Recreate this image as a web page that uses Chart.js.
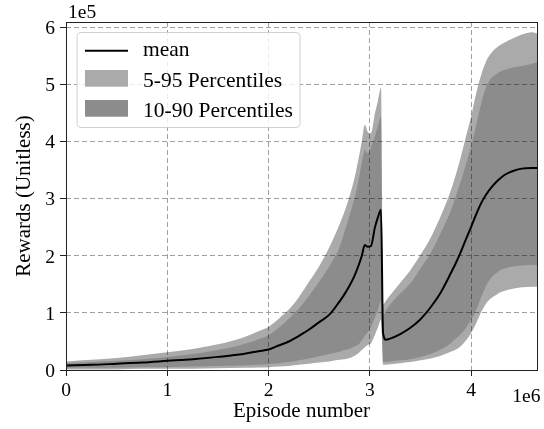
<!DOCTYPE html>
<html>
<head>
<meta charset="utf-8">
<script src="https://cdn.jsdelivr.net/npm/chart.js@4"></script>
<style>
  html, body { margin: 0; padding: 0; background: #fff; }
  canvas { display: block; }
</style>
</head>
<body>
<canvas id="rewardChart" width="544" height="429"></canvas>
<script>
// episodes in units of 1e6, rewards in units of 1e5 (see the offset labels)
const episodes = [0, 0.25, 0.5, 0.75, 1.0, 1.25, 1.5, 1.75, 1.9, 2.0, 2.1, 2.2, 2.3, 2.4, 2.5, 2.6, 2.7, 2.75, 2.8, 2.85, 2.89, 2.92, 2.95, 2.98, 3.01, 3.05, 3.08, 3.11,
  3.13, 3.16, 3.2, 3.3, 3.4, 3.5, 3.6, 3.7, 3.8, 3.85, 3.9, 3.95, 4.0, 4.05, 4.1, 4.15, 4.2, 4.25, 4.3, 4.35, 4.4, 4.5, 4.6, 4.65];
const meanReward = [0.08, 0.09, 0.11, 0.13, 0.16, 0.19, 0.23, 0.28, 0.33, 0.36, 0.43, 0.50, 0.60, 0.71, 0.84, 0.97, 1.20, 1.33, 1.48, 1.66, 1.84, 2.00, 2.19, 2.16, 2.17, 2.50, 2.68, 2.81,
  0.65, 0.53, 0.55, 0.63, 0.74, 0.89, 1.10, 1.36, 1.70, 1.88, 2.08, 2.30, 2.51, 2.73, 2.93, 3.08, 3.20, 3.30, 3.38, 3.44, 3.48, 3.53, 3.54, 3.54];
const pct95 = [0.15, 0.18, 0.21, 0.26, 0.31, 0.37, 0.45, 0.57, 0.68, 0.76, 0.90, 1.06, 1.28, 1.55, 1.82, 2.15, 2.55, 2.78, 3.05, 3.38, 3.72, 4.00, 4.30, 4.17, 4.15, 4.50, 4.72, 4.95,
  1.15, 1.22, 1.31, 1.53, 1.75, 2.02, 2.32, 2.70, 3.15, 3.43, 3.75, 4.10, 4.45, 4.85, 5.18, 5.42, 5.56, 5.65, 5.71, 5.76, 5.80, 5.88, 5.92, 5.90];
const pct5 = [0.01, 0.01, 0.01, 0.02, 0.02, 0.02, 0.03, 0.04, 0.045, 0.05, 0.06, 0.07, 0.09, 0.11, 0.13, 0.15, 0.18, 0.19, 0.21, 0.25, 0.30, 0.35, 0.40, 0.44, 0.47, 0.62, 0.75, 0.88,
  0.09, 0.09, 0.10, 0.12, 0.14, 0.17, 0.20, 0.25, 0.32, 0.36, 0.42, 0.52, 0.65, 0.82, 1.02, 1.17, 1.26, 1.32, 1.37, 1.40, 1.42, 1.45, 1.46, 1.46];
const pct90 = [0.12, 0.14, 0.16, 0.19, 0.23, 0.28, 0.35, 0.45, 0.54, 0.61, 0.74, 0.90, 1.08, 1.30, 1.55, 1.82, 2.15, 2.42, 2.72, 3.02, 3.35, 3.62, 3.85, 3.80, 3.90, 4.10, 4.28, 4.44,
  0.95, 1.05, 1.15, 1.34, 1.52, 1.78, 2.05, 2.40, 2.80, 3.06, 3.32, 3.62, 3.93, 4.30, 4.68, 4.98, 5.12, 5.19, 5.24, 5.27, 5.30, 5.33, 5.37, 5.39];
const pct10 = [0.04, 0.04, 0.04, 0.05, 0.05, 0.06, 0.07, 0.08, 0.09, 0.10, 0.12, 0.14, 0.17, 0.20, 0.24, 0.28, 0.32, 0.35, 0.37, 0.41, 0.45, 0.52, 0.60, 0.66, 0.75, 0.92, 1.05, 1.20,
  0.14, 0.14, 0.15, 0.17, 0.19, 0.23, 0.28, 0.36, 0.47, 0.55, 0.63, 0.74, 0.88, 1.05, 1.28, 1.48, 1.62, 1.70, 1.76, 1.79, 1.81, 1.83, 1.84, 1.84];
const xTicks = [0, 1, 2, 3, 4];
const yTicks = [0, 1, 2, 3, 4, 5, 6];
const seriesLabels = ['mean', '5-95 Percentiles', '10-90 Percentiles'];

const SERIF = "'Liberation Serif', 'Times New Roman', serif";
Chart.defaults.font.family = SERIF;
Chart.defaults.color = '#000';

function toPoints(values) {
  return episodes.map((x, i) => ({ x: x, y: values[i] }));
}

// frame, matplotlib-style legend and the 1e5 / 1e6 offset labels
const decorPlugin = {
  id: 'decor',
  afterDraw(chart) {
    const ctx = chart.ctx;
    const a = chart.chartArea;
    ctx.save();

    ctx.strokeStyle = '#222';
    ctx.lineWidth = 1;
    ctx.strokeRect(Math.round(a.left) + 0.5, Math.round(a.top) + 0.5,
      Math.round(a.right - a.left), Math.round(a.bottom - a.top));

    // legend box
    const bx = a.left + 11, by = a.top + 10.5, bw = 223, bh = 95, r = 4;
    ctx.beginPath();
    ctx.moveTo(bx + r, by);
    ctx.arcTo(bx + bw, by, bx + bw, by + bh, r);
    ctx.arcTo(bx + bw, by + bh, bx, by + bh, r);
    ctx.arcTo(bx, by + bh, bx, by, r);
    ctx.arcTo(bx, by, bx + bw, by, r);
    ctx.closePath();
    ctx.fillStyle = 'rgba(255,255,255,0.8)';
    ctx.fill();
    ctx.strokeStyle = '#d0d0d0';
    ctx.stroke();

    const sx = a.left + 19, sw = 43, tx = a.left + 77;
    ctx.strokeStyle = '#000';
    ctx.lineWidth = 2;
    ctx.beginPath();
    ctx.moveTo(sx, a.top + 28.7);
    ctx.lineTo(sx + sw, a.top + 28.7);
    ctx.stroke();
    ctx.fillStyle = '#aaaaaa';
    ctx.fillRect(sx, a.top + 48, sw, 16.7);
    ctx.fillStyle = '#8c8c8c';
    ctx.fillRect(sx, a.top + 78, sw, 16.7);

    ctx.fillStyle = '#000';
    ctx.font = '21.5px ' + SERIF;
    ctx.textAlign = 'left';
    ctx.textBaseline = 'alphabetic';
    ctx.fillText(seriesLabels[0], tx, a.top + 34);
    ctx.fillText(seriesLabels[1], tx, a.top + 64.5);
    ctx.fillText(seriesLabels[2], tx, a.top + 94.5);

    ctx.font = '19.5px ' + SERIF;
    ctx.fillText('1e5', a.left + 2, 18.3);
    ctx.textAlign = 'right';
    ctx.fillText('1e6', 540.5, 401.7);
    ctx.restore();
  }
};

const ctx = document.getElementById('rewardChart').getContext('2d');
new Chart(ctx, {
  type: 'line',
  data: {
    datasets: [
      { label: seriesLabels[0], data: toPoints(meanReward), borderColor: '#000', borderWidth: 2, fill: false, order: 0 },
      { label: seriesLabels[1], data: toPoints(pct95), borderWidth: 0, backgroundColor: 'rgba(0,0,0,0.333)', fill: '+1', order: 2 },
      { label: 'p5', data: toPoints(pct5), borderWidth: 0, fill: false, order: 2 },
      { label: seriesLabels[2], data: toPoints(pct90), borderWidth: 0, backgroundColor: 'rgba(0,0,0,0.176)', fill: '+1', order: 1 },
      { label: 'p10', data: toPoints(pct10), borderWidth: 0, fill: false, order: 1 }
    ]
  },
  options: {
    responsive: false,
    animation: false,
    devicePixelRatio: 1,
    layout: { padding: { top: 22, right: 7, bottom: 0, left: 0 } },
    elements: { line: { cubicInterpolationMode: 'monotone' }, point: { radius: 0 } },
    plugins: { legend: { display: false }, tooltip: { enabled: false } },
    scales: {
      x: {
        type: 'linear',
        min: 0,
        max: 4.65,
        afterBuildTicks: s => { s.ticks = xTicks.map(v => ({ value: v })); },
        afterFit: s => { s.height = 59; },
        grid: { color: '#a0a0a0', lineWidth: 1, tickLength: 6, tickColor: '#222', tickBorderDash: [] },
        border: { display: false, dash: [5, 3] },
        ticks: { font: { size: 19.5 }, color: '#000', padding: 3, maxRotation: 0 },
        title: { display: true, text: 'Episode number', font: { size: 21 }, color: '#000', padding: { bottom: 5 } }
      },
      y: {
        min: 0,
        max: 6.1,
        afterBuildTicks: s => { s.ticks = yTicks.map(v => ({ value: v })); },
        afterFit: s => { s.width = 66; },
        grid: { color: '#a0a0a0', lineWidth: 1, tickLength: 6, tickColor: '#222', tickBorderDash: [] },
        border: { display: false, dash: [5, 3] },
        ticks: { font: { size: 19.5 }, color: '#000', padding: 5, labelOffset: 1.5 },
        title: { display: true, text: 'Rewards (Unitless)', font: { size: 21 }, color: '#000', padding: { top: 12 } }
      }
    }
  },
  plugins: [decorPlugin]
});
</script>
</body>
</html>
